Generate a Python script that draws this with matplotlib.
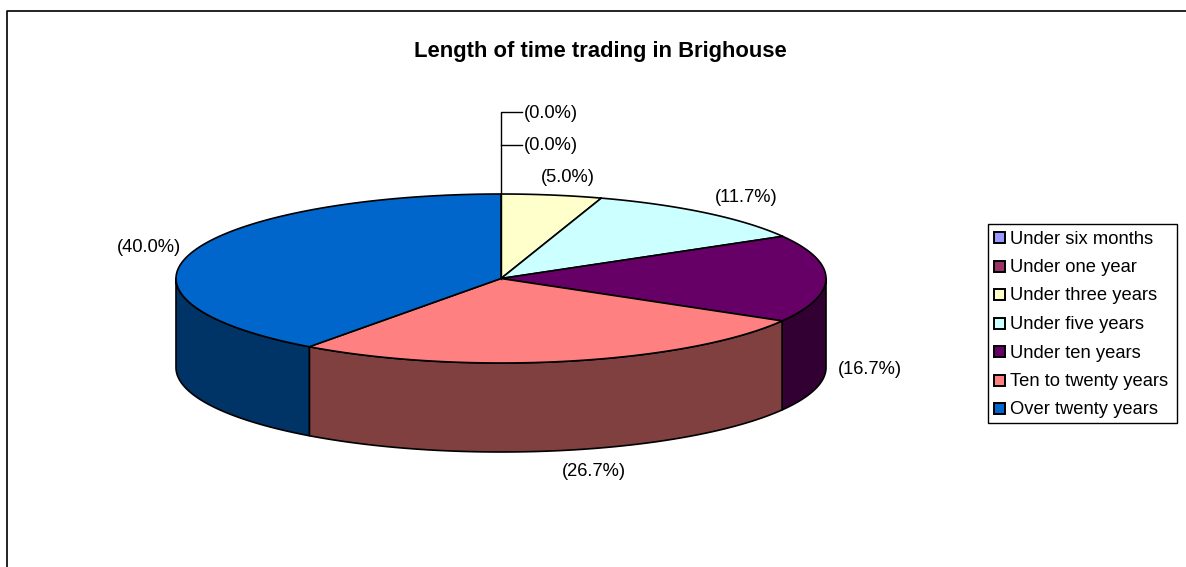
import matplotlib
matplotlib.use("Agg")
import matplotlib.pyplot as plt
from matplotlib.patches import Polygon, Rectangle
import numpy as np

title = "Length of time trading in Brighouse"
categories = ["Under six months", "Under one year", "Under three years", "Under five years",
              "Under ten years", "Ten to twenty years", "Over twenty years"]
values = [0.0, 0.0, 5.0, 11.7, 16.7, 26.7, 40.0]
colors = ["#9999FF", "#993366", "#FFFFCC", "#CCFFFF", "#660066", "#FF8080", "#0066CC"]
side_colors = ["#4C4C80", "#4C1A33", "#808066", "#668080", "#330033", "#804040", "#003366"]
label_pos = [(524, 113), (524, 146), (541, 178), (715, 197), (838, 369.5), (562, 471), (117, 248)]

cx, cy, rx, ry, depth = 501, 278.5, 325, 84.5, 89


def rim(t):
    # point on the top ellipse, t in degrees clockwise from 12 o'clock
    t = np.radians(t)
    return np.column_stack([cx + rx * np.sin(t), cy - ry * np.cos(t)])


fig = plt.figure(figsize=(11.86, 5.67), dpi=100)
ax = fig.add_axes([0, 0, 1, 1])
ax.set_xlim(0, 1186)
ax.set_ylim(567, 0)
ax.axis("off")
plt.rcParams["font.family"] = ["Liberation Sans", "DejaVu Sans"]

# outer chart frame, runs off the right and bottom
ax.plot([7, 7, 1186], [567, 11, 11], color="black", lw=1.2)

ax.text(600, 52, title, ha="center", va="center", fontsize=15.8, fontweight="bold")

total = sum(values)
angles = np.concatenate([[0], np.cumsum(values) / total * 360])

# side walls first, only the front half of the pie shows
for i in range(len(values)):
    lo, hi = max(angles[i], 90), min(angles[i + 1], 270)
    if hi <= lo:
        continue
    top = rim(np.linspace(lo, hi, 80))
    low = top[::-1] + [0, depth]
    ax.add_patch(Polygon(np.vstack([top, low]), facecolor=side_colors[i],
                         edgecolor="black", lw=1.2, joinstyle="round"))

# top slices
for i in range(len(values)):
    if values[i] == 0:
        continue
    edge = rim(np.linspace(angles[i], angles[i + 1], 120))
    ax.add_patch(Polygon(np.vstack([[cx, cy], edge]), facecolor=colors[i],
                         edgecolor="black", lw=1.2, joinstyle="round"))

# leader lines for the two empty slices
ax.plot([522, cx, cx], [112, 112, cy], color="black", lw=1.0)
ax.plot([cx, 522], [145, 145], color="black", lw=1.0)

for v, (x, y) in zip(values, label_pos):
    ax.text(x, y, f"({v:.1f}%)", ha="left", va="center", fontsize=13.2)

# legend
ax.add_patch(Rectangle((989, 225), 189, 199, facecolor="#808080", edgecolor="none"))
ax.add_patch(Rectangle((987.5, 223.5), 189, 199, facecolor="white", edgecolor="black", lw=1.0))
for i, name in enumerate(categories):
    y = 238 + i * 28.5
    ax.add_patch(Rectangle((994, y - 6), 11, 11, facecolor=colors[i], edgecolor="black", lw=1.4))
    ax.text(1010, y + 1, name, ha="left", va="center", fontsize=13.25)

fig.savefig("out.png", dpi=100)
